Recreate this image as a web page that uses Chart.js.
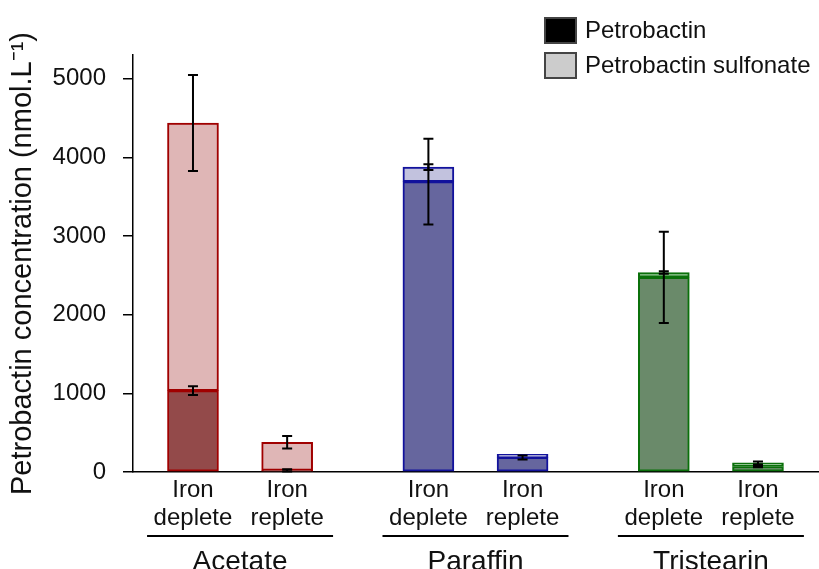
<!DOCTYPE html>
<html>
<head>
<meta charset="utf-8">
<script src="https://cdn.jsdelivr.net/npm/chart.js@4.4.0/dist/chart.umd.min.js"></script>
<style>
  html, body { margin: 0; padding: 0; background: #fff; }
  #wrap { width: 819px; height: 569px; }
</style>
</head>
<body>
<div id="wrap"><canvas id="bar-chart"></canvas></div>
<script>
// bar positions on the x axis (groups of two, gap between groups)
const xPos = [0, 2, 5, 7, 10, 12];
const tickLabels = [
  ['Iron', 'deplete'], ['Iron', 'replete'],
  ['Iron', 'deplete'], ['Iron', 'replete'],
  ['Iron', 'deplete'], ['Iron', 'replete'],
];
const groups = ['Acetate', 'Paraffin', 'Tristearin'];

// nmol.L-1
const petrobactin = [1035, 20, 3690, 185, 2475, 70];
const sulfonate = [3400, 358, 185, 40, 60, 45];
const petrobactinErr = [55, 15, 545, 25, 580, 10];
const totalErr = [610, 80, 38, 0, 15, 20];

const yTicks = [0, 1000, 2000, 3000, 4000, 5000];

const borderCols = ['#a00000', '#a00000', '#12129c', '#12129c', '#0a700a', '#0a700a'];
const darkCols = ['#934a4a', '#934a4a', '#66669e', '#66669e', '#6a8a6a', '#6a8a6a'];
const lightCols = ['#dfb6b6', '#dfb6b6', '#c2c2de', '#c2c2de', '#9fce9f', '#9fce9f'];

const FONT = "'Liberation Sans', Arial, sans-serif";

const errorBars = {
  id: 'errorBars',
  afterDatasetsDraw(chart) {
    const { ctx, scales: { x, y } } = chart;
    ctx.save();
    ctx.strokeStyle = '#000';
    ctx.lineWidth = 2;
    const draw = (xv, v, e) => {
      if (!e) return;
      const cx = x.getPixelForValue(xv);
      const y1 = y.getPixelForValue(v + e);
      const y2 = y.getPixelForValue(Math.max(v - e, 0));
      ctx.beginPath();
      ctx.moveTo(cx, y1); ctx.lineTo(cx, y2);
      ctx.moveTo(cx - 5, y1); ctx.lineTo(cx + 5, y1);
      ctx.moveTo(cx - 5, y2); ctx.lineTo(cx + 5, y2);
      ctx.stroke();
    };
    xPos.forEach((xv, i) => {
      draw(xv, petrobactin[i], petrobactinErr[i]);
      draw(xv, petrobactin[i] + sulfonate[i], totalErr[i]);
    });
    ctx.restore();
  },
};

const groupLabels = {
  id: 'groupLabels',
  afterDraw(chart) {
    const { ctx, scales: { x } } = chart;
    ctx.save();
    ctx.strokeStyle = '#000';
    ctx.lineWidth = 2;
    ctx.fillStyle = '#111';
    ctx.font = '28px ' + FONT;
    ctx.textAlign = 'center';
    ctx.textBaseline = 'alphabetic';
    groups.forEach((g, i) => {
      const c = (x.getPixelForValue(xPos[2 * i]) + x.getPixelForValue(xPos[2 * i + 1])) / 2;
      ctx.beginPath();
      ctx.moveTo(c - 93, 536);
      ctx.lineTo(c + 93, 536);
      ctx.stroke();
      ctx.fillText(g, c, 570);
    });
    ctx.restore();
  },
};

const boxLegend = {
  id: 'boxLegend',
  afterDraw(chart) {
    const { ctx } = chart;
    const fills = ['#000000', '#cccccc'];
    ctx.save();
    ctx.font = '24px ' + FONT;
    ctx.textBaseline = 'middle';
    ctx.fillStyle = '#111';
    chart.data.datasets.forEach((ds, i) => {
      const top = 18 + i * 35;
      ctx.fillStyle = fills[i];
      ctx.fillRect(545, top, 31, 25);
      ctx.strokeStyle = '#444';
      ctx.lineWidth = 2;
      ctx.strokeRect(545, top, 31, 25);
      ctx.fillStyle = '#111';
      ctx.fillText(ds.label, 585, top + 13);
    });
    ctx.restore();
  },
};

const data = {
  datasets: [
    {
      label: 'Petrobactin',
      data: xPos.map((x, i) => ({ x: x, y: petrobactin[i] })),
      backgroundColor: darkCols,
      borderColor: borderCols,
      borderWidth: 2,
      borderSkipped: false,
      barThickness: 51,
    },
    {
      label: 'Petrobactin sulfonate',
      data: xPos.map((x, i) => ({ x: x, y: sulfonate[i] })),
      backgroundColor: lightCols,
      borderColor: borderCols,
      borderWidth: 2,
      borderSkipped: false,
      barThickness: 51,
    },
  ],
};

const config = {
  type: 'bar',
  data: data,
  plugins: [errorBars, groupLabels, boxLegend],
  options: {
    responsive: true,
    maintainAspectRatio: false,
    animation: false,
    layout: { padding: { top: 55, right: 0, bottom: 0, left: 0 } },
    plugins: {
      legend: { display: false },
      tooltip: { enabled: false },
    },
    scales: {
      x: {
        type: 'linear',
        stacked: true,
        offset: false,
        min: -1.274,
        max: 13.296,
        afterBuildTicks: (s) => { s.ticks = xPos.map(v => ({ value: v })); },
        afterFit: (s) => { s.height = 97; },
        grid: { display: false, drawTicks: false },
        border: { display: true, color: '#000', width: 1.5 },
        ticks: {
          autoSkip: false,
          maxRotation: 0,
          padding: 4,
          color: '#111',
          font: { family: FONT, size: 24, lineHeight: 1.19 },
          callback: (value, index) => tickLabels[index],
        },
      },
      y: {
        stacked: true,
        min: 0,
        max: 5300,
        afterBuildTicks: (s) => { s.ticks = yTicks.map(v => ({ value: v })); },
        afterFit: (s) => { s.width = 133; },
        grid: { drawOnChartArea: false, drawTicks: true, tickLength: 10, color: '#000', lineWidth: 1.5 },
        border: { display: true, color: '#000', width: 1.5 },
        ticks: {
          padding: 17,
          color: '#111',
          font: { family: FONT, size: 24 },
          callback: (value) => String(value),
        },
        title: {
          display: true,
          text: 'Petrobactin concentration (nmol.L\u207B\u00B9)',
          color: '#111',
          padding: { top: 6, bottom: 0 },
          font: { family: FONT, size: 29 },
        },
      },
    },
  },
};

const barChart = new Chart(document.getElementById('bar-chart'), config);
</script>
</body>
</html>
